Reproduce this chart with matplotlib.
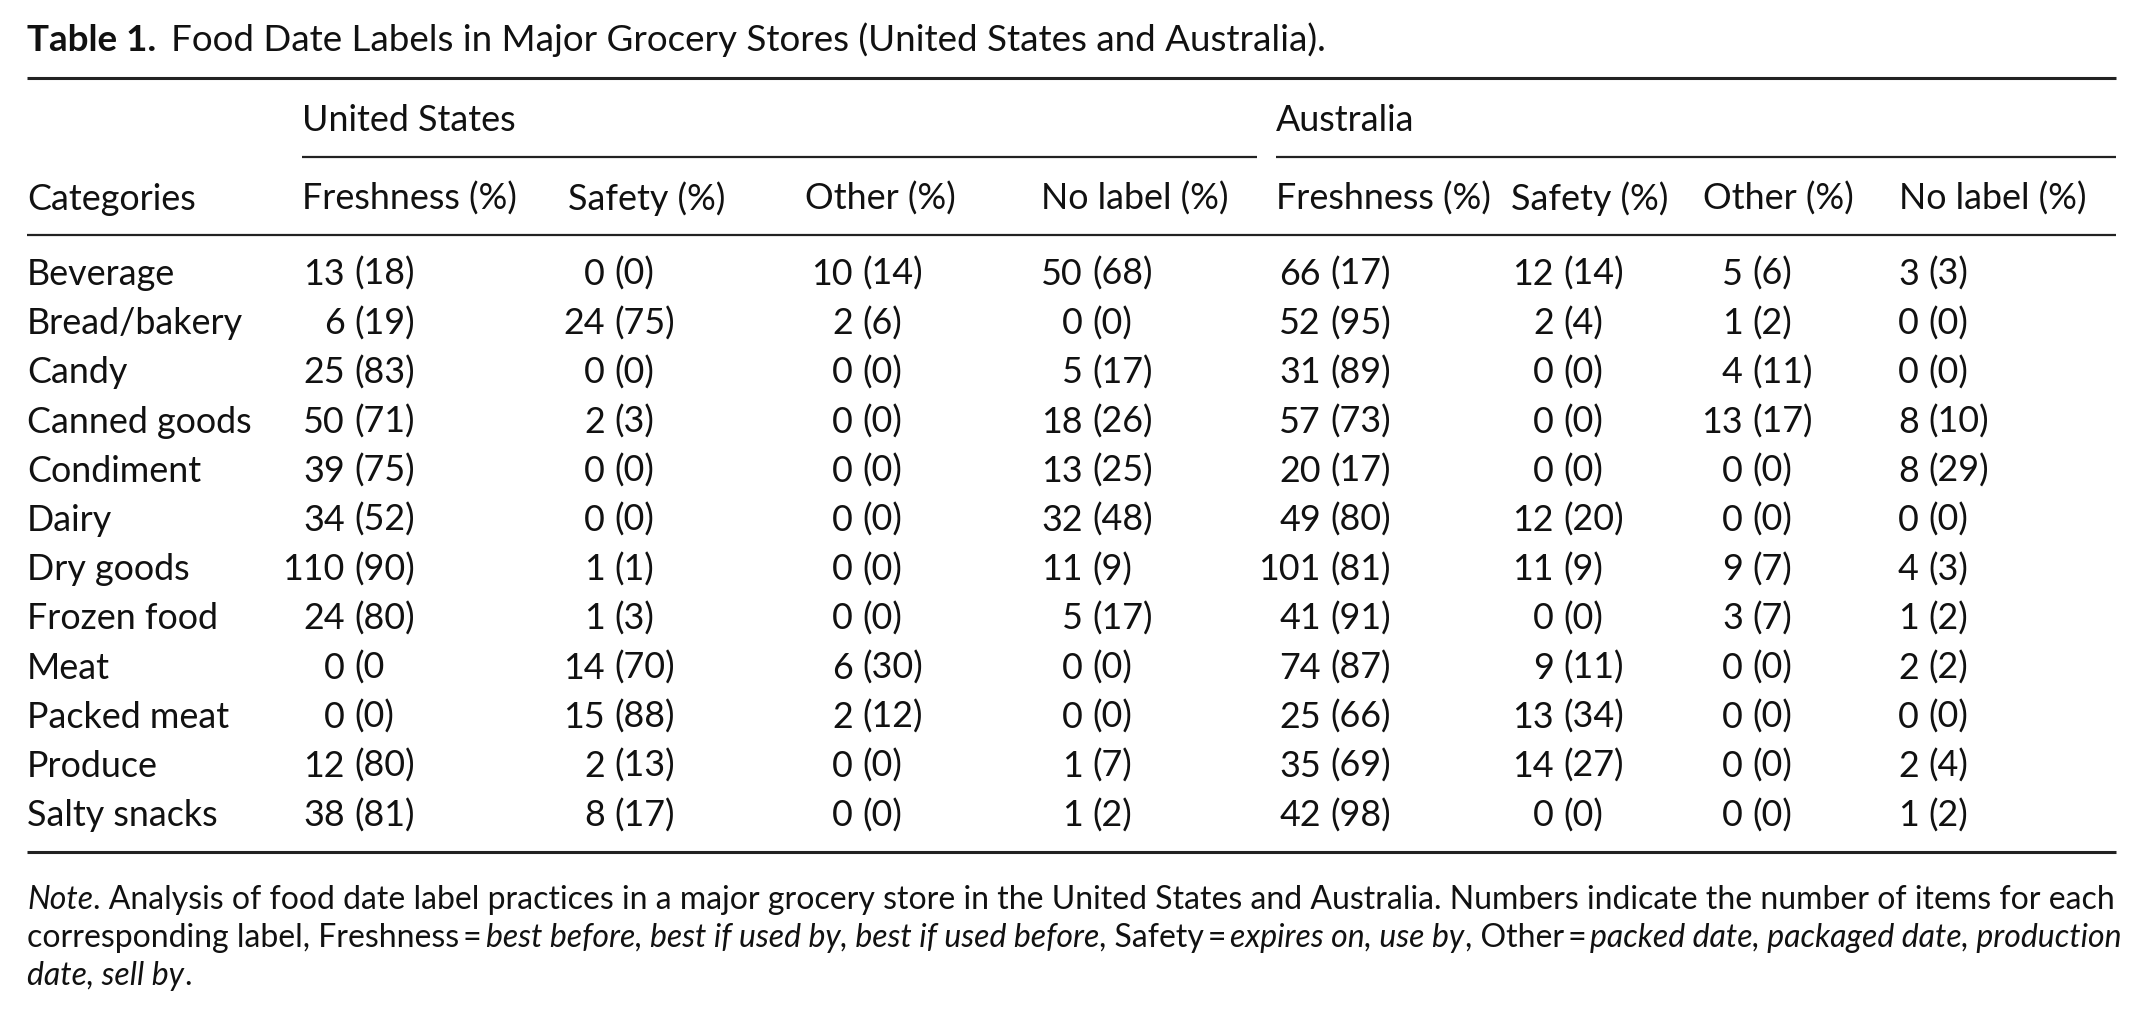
import matplotlib
matplotlib.use("Agg")
import matplotlib.pyplot as plt

FONT = "Lato"

# table content
title_bold = "Table 1."
title_rest = "Food Date Labels in Major Grocery Stores (United States and Australia)."

countries = ["United States", "Australia"]
label_types = ["Freshness (%)", "Safety (%)", "Other (%)", "No label (%)"]
row_header = "Categories"

categories = ["Beverage", "Bread/bakery", "Candy", "Canned goods", "Condiment", "Dairy",
              "Dry goods", "Frozen food", "Meat", "Packed meat", "Produce", "Salty snacks"]

us_freshness = ["13 (18)", "6 (19)", "25 (83)", "50 (71)", "39 (75)", "34 (52)",
                "110 (90)", "24 (80)", "0 (0", "0 (0)", "12 (80)", "38 (81)"]
us_safety = ["0 (0)", "24 (75)", "0 (0)", "2 (3)", "0 (0)", "0 (0)",
             "1 (1)", "1 (3)", "14 (70)", "15 (88)", "2 (13)", "8 (17)"]
us_other = ["10 (14)", "2 (6)", "0 (0)", "0 (0)", "0 (0)", "0 (0)",
            "0 (0)", "0 (0)", "6 (30)", "2 (12)", "0 (0)", "0 (0)"]
us_nolabel = ["50 (68)", "0 (0)", "5 (17)", "18 (26)", "13 (25)", "32 (48)",
              "11 (9)", "5 (17)", "0 (0)", "0 (0)", "1 (7)", "1 (2)"]
au_freshness = ["66 (17)", "52 (95)", "31 (89)", "57 (73)", "20 (17)", "49 (80)",
                "101 (81)", "41 (91)", "74 (87)", "25 (66)", "35 (69)", "42 (98)"]
au_safety = ["12 (14)", "2 (4)", "0 (0)", "0 (0)", "0 (0)", "12 (20)",
             "11 (9)", "0 (0)", "9 (11)", "13 (34)", "14 (27)", "0 (0)"]
au_other = ["5 (6)", "1 (2)", "4 (11)", "13 (17)", "0 (0)", "0 (0)",
            "9 (7)", "3 (7)", "0 (0)", "0 (0)", "0 (0)", "0 (0)"]
au_nolabel = ["3 (3)", "0 (0)", "0 (0)", "8 (10)", "8 (29)", "0 (0)",
              "4 (3)", "1 (2)", "2 (2)", "0 (0)", "2 (4)", "1 (2)"]

columns = [us_freshness, us_safety, us_other, us_nolabel,
           au_freshness, au_safety, au_other, au_nolabel]

# note: (text, italic?)
note_lines = [
    [("Note", True), (". Analysis of food date label practices in a major grocery store in the United States and Australia. Numbers indicate the number of items for each", False)],
    [("corresponding label, Freshness\u2009=\u2009", False), ("best before, best if used by, best if used before", True),
     (", Safety\u2009=\u2009", False), ("expires on, use by", True), (", Other\u2009=\u2009", False),
     ("packed date, packaged date, production", True)],
    [("date, sell by", True), (".", False)],
]

# layout (pixels)
W, H = 2142, 1021
left, right = 27, 2116
size = 25.8
title_size = 26.5
note_size = 23
header_x = [302, 568, 805, 1041, 1276, 1511, 1703, 1899]
paren_x = [354, 614, 862, 1092, 1330, 1563, 1752, 1928]
group_x = [(302, 1257), (1276, 2116)]
row0, row_step = 285, 49.2

fig = plt.figure(figsize=(W / 100, H / 100), dpi=100)
ax = fig.add_axes([0, 0, 1, 1])
ax.set_xlim(0, W)
ax.set_ylim(H, 0)
ax.axis("off")
rend = fig.canvas.get_renderer()


def width_of(t):
    bb = t.get_window_extent(renderer=rend)
    return bb.x1 - bb.x0


def txt(x, y, s, **kw):
    kw.setdefault("fontsize", size)
    kw.setdefault("va", "baseline")
    return ax.text(x, y, s, family=FONT, color="#111111", **kw)


# space width
probe1 = txt(0, 0, "x x")
probe2 = txt(0, 0, "xx")
space = width_of(probe1) - width_of(probe2)
probe1.remove()
probe2.remove()

# title
t = txt(left, 51, title_bold, fontweight="bold", fontsize=title_size)
txt(left + width_of(t) + space * 1.6, 51, title_rest, fontsize=title_size)

# rules
ax.hlines(78, left, right, color="#222222", lw=2.2)
for x0, x1 in group_x:
    ax.hlines(157, x0, x1, color="#222222", lw=1.6)
ax.hlines(235, left, right, color="#222222", lw=1.6)
ax.hlines(852, left, right, color="#222222", lw=2.2)

# headers
for (x0, _), c in zip(group_x, countries):
    txt(x0, 131, c)
txt(left, 210, row_header)
for i, x in enumerate(header_x):
    txt(x, 210, label_types[i % 4])

# body
for r, cat in enumerate(categories):
    y = row0 + r * row_step
    txt(left, y, cat)
    for c, col in enumerate(columns):
        num, pct = col[r].split(" ")
        txt(paren_x[c] - space, y, num, ha="right")
        txt(paren_x[c], y, pct, ha="left")

# note
note_y = [909, 947, 985]
for li, line in enumerate(note_lines):
    x = left
    for s, it in line:
        t = txt(x, note_y[li], s, fontsize=note_size, fontstyle="italic" if it else "normal")
        x += width_of(t)

fig.savefig("out.png", dpi=100)
